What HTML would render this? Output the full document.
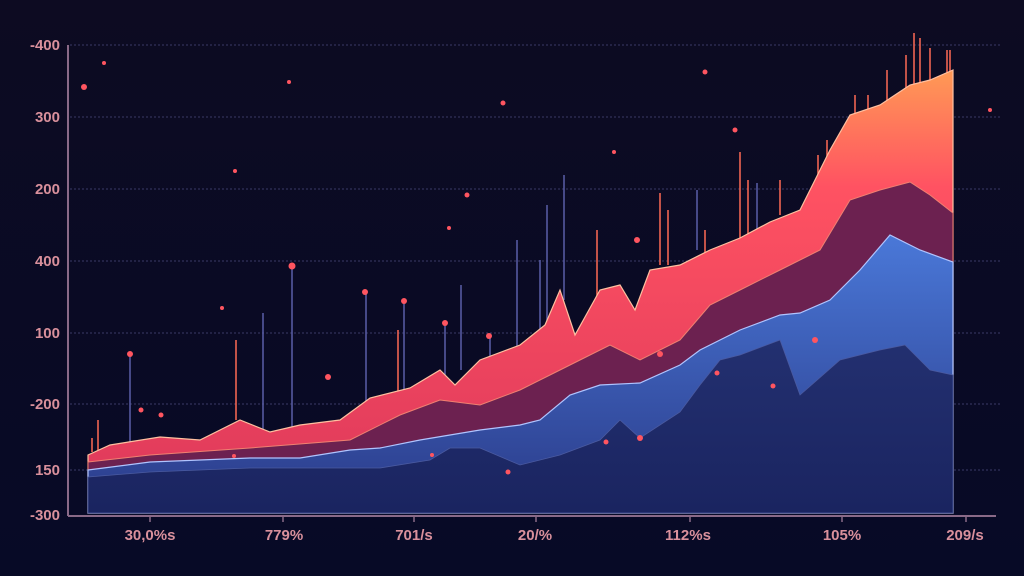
<!DOCTYPE html>
<html><head><meta charset="utf-8"><style>
html,body{margin:0;padding:0;background:#0a0a22;}
svg{display:block}
text{font-family:"Liberation Sans",sans-serif;font-weight:bold;fill:#d9909c;font-size:15px}
</style></head><body>
<svg width="1024" height="576" viewBox="0 0 1024 576" xmlns="http://www.w3.org/2000/svg">
<defs>
<linearGradient id="bg" x1="0" y1="0" x2="0" y2="1"><stop offset="0" stop-color="#0d0b22"/><stop offset="1" stop-color="#070a26"/></linearGradient>
<linearGradient id="top" gradientUnits="userSpaceOnUse" x1="0" y1="70" x2="0" y2="460"><stop offset="0" stop-color="#ff9a55"/><stop offset="0.3" stop-color="#ff5262"/><stop offset="1" stop-color="#e23c5c"/></linearGradient>
<linearGradient id="blue" x1="0" y1="0" x2="0" y2="1"><stop offset="0" stop-color="#4a78d8"/><stop offset="1" stop-color="#2a3a88"/></linearGradient>
<linearGradient id="navy" x1="0" y1="0" x2="0" y2="1"><stop offset="0" stop-color="#233070"/><stop offset="1" stop-color="#1a2460"/></linearGradient>
</defs>
<rect width="1024" height="576" fill="url(#bg)"/>
<g stroke="#3a3a66" stroke-width="1" stroke-dasharray="2 2">
<line x1="70" y1="45" x2="1000" y2="45"/><line x1="70" y1="117" x2="1000" y2="117"/><line x1="70" y1="189" x2="1000" y2="189"/><line x1="70" y1="261" x2="1000" y2="261"/><line x1="70" y1="333" x2="1000" y2="333"/><line x1="70" y1="404" x2="1000" y2="404"/><line x1="70" y1="470" x2="1000" y2="470"/>
</g>
<g stroke="#5a5ea8" stroke-width="1.5">
<line x1="292" y1="265" x2="292" y2="440"/><line x1="263" y1="313" x2="263" y2="440"/><line x1="366" y1="292" x2="366" y2="420"/><line x1="404" y1="300" x2="404" y2="400"/><line x1="445" y1="325" x2="445" y2="390"/><line x1="461" y1="285" x2="461" y2="370"/><line x1="130" y1="355" x2="130" y2="445"/><line x1="490" y1="337" x2="490" y2="365"/><line x1="517" y1="240" x2="517" y2="350"/><line x1="547" y1="205" x2="547" y2="340"/><line x1="564" y1="175" x2="564" y2="300"/><line x1="697" y1="190" x2="697" y2="250"/><line x1="757" y1="183" x2="757" y2="230"/><line x1="540" y1="260" x2="540" y2="330"/>
</g>
<g stroke="#ff6a55" stroke-width="1.5">
<line x1="236" y1="340" x2="236" y2="420"/><line x1="398" y1="330" x2="398" y2="395"/><line x1="597" y1="230" x2="597" y2="310"/><line x1="660" y1="193" x2="660" y2="265"/><line x1="668" y1="210" x2="668" y2="265"/><line x1="740" y1="152" x2="740" y2="240"/><line x1="748" y1="180" x2="748" y2="240"/><line x1="780" y1="180" x2="780" y2="215"/><line x1="827" y1="140" x2="827" y2="170"/><line x1="855" y1="95" x2="855" y2="120"/><line x1="887" y1="70" x2="887" y2="110"/><line x1="906" y1="55" x2="906" y2="90"/><line x1="914" y1="33" x2="914" y2="85"/><line x1="920" y1="38" x2="920" y2="85"/><line x1="930" y1="48" x2="930" y2="82"/><line x1="947" y1="50" x2="947" y2="75"/><line x1="950" y1="50" x2="950" y2="75"/><line x1="98" y1="420" x2="98" y2="450"/><line x1="92" y1="438" x2="92" y2="452"/><line x1="705" y1="230" x2="705" y2="255"/><line x1="818" y1="155" x2="818" y2="180"/><line x1="868" y1="95" x2="868" y2="115"/>
</g>
<path d="M88 455 L110 445 L160 437 L200 440 L240 420 L270 432 L300 425 L340 420 L370 398 L410 388 L440 370 L455 385 L480 360 L520 345 L545 325 L560 290 L575 335 L600 290 L620 285 L635 310 L650 270 L680 265 L710 250 L740 238 L770 222 L800 210 L830 150 L850 115 L880 105 L910 85 L930 80 L953 70 L953 513 L88 513 Z" fill="url(#top)" stroke="#ffc0a0" stroke-width="1.2"/>
<path d="M88 462 L150 455 L250 448 L350 440 L400 415 L440 400 L480 405 L520 390 L550 375 L580 360 L610 345 L640 360 L680 340 L710 305 L740 290 L780 270 L820 250 L850 200 L880 190 L910 182 L930 195 L953 213 L953 513 L88 513 Z" fill="#6c2150" stroke="#f08070" stroke-width="1"/>
<path d="M88 470 L150 462 L200 460 L250 458 L300 458 L350 450 L380 448 L420 440 L480 430 L520 425 L540 420 L570 395 L600 385 L640 383 L680 365 L700 350 L740 330 L780 315 L800 313 L830 300 L860 270 L890 235 L920 250 L953 262 L953 513 L88 513 Z" fill="url(#blue)" stroke="#b0c4ff" stroke-width="1.2"/>
<path d="M88 477 L150 472 L250 468 L330 468 L380 468 L430 460 L450 448 L480 448 L520 465 L560 455 L600 440 L620 420 L640 438 L680 412 L700 385 L720 360 L740 355 L780 340 L800 395 L840 360 L880 350 L905 345 L930 370 L953 375 L953 513 L88 513 Z" fill="url(#navy)" stroke="#4a5aa0" stroke-width="0.8"/>
<g fill="#ff5560">
<circle cx="84" cy="87" r="3"/><circle cx="104" cy="63" r="2"/><circle cx="289" cy="82" r="2"/><circle cx="235" cy="171" r="2"/><circle cx="292" cy="266" r="3.5"/><circle cx="130" cy="354" r="3"/><circle cx="222" cy="308" r="2"/><circle cx="365" cy="292" r="3"/><circle cx="404" cy="301" r="3"/><circle cx="445" cy="323" r="3"/><circle cx="467" cy="195" r="2.5"/><circle cx="449" cy="228" r="2"/><circle cx="489" cy="336" r="3"/><circle cx="328" cy="377" r="3"/><circle cx="141" cy="410" r="2.5"/><circle cx="161" cy="415" r="2.5"/><circle cx="637" cy="240" r="3"/><circle cx="705" cy="72" r="2.5"/><circle cx="503" cy="103" r="2.5"/><circle cx="735" cy="130" r="2.5"/><circle cx="614" cy="152" r="2"/><circle cx="660" cy="354" r="3"/><circle cx="717" cy="373" r="2.5"/><circle cx="773" cy="386" r="2.5"/><circle cx="815" cy="340" r="3"/><circle cx="606" cy="442" r="2.5"/><circle cx="640" cy="438" r="3"/><circle cx="508" cy="472" r="2.5"/><circle cx="432" cy="455" r="2"/><circle cx="234" cy="456" r="2"/><circle cx="990" cy="110" r="2"/>
</g>
<line x1="68" y1="45" x2="68" y2="516" stroke="#8a6a88" stroke-width="2"/>
<line x1="68" y1="516" x2="996" y2="516" stroke="#8a6a88" stroke-width="2"/>
<g stroke="#8a6a88" stroke-width="1.5">
<line x1="150" y1="516" x2="150" y2="522"/><line x1="283" y1="516" x2="283" y2="522"/><line x1="414" y1="516" x2="414" y2="522"/><line x1="536" y1="516" x2="536" y2="522"/><line x1="690" y1="516" x2="690" y2="522"/><line x1="842" y1="516" x2="842" y2="522"/><line x1="966" y1="516" x2="966" y2="522"/>
</g>
<g text-anchor="end">
<text x="60" y="50">-400</text><text x="60" y="122">300</text><text x="60" y="194">200</text><text x="60" y="266">400</text><text x="60" y="338">100</text><text x="60" y="409">-200</text><text x="60" y="475">150</text><text x="60" y="520">-300</text>
</g>
<g text-anchor="middle" style="font-weight:normal">
<text x="150" y="540">30,0%s</text><text x="284" y="540">779%</text><text x="414" y="540">701/s</text><text x="535" y="540">20/%</text><text x="688" y="540">112%s</text><text x="842" y="540">105%</text><text x="965" y="540">209/s</text>
</g>
</svg>
</body></html>
